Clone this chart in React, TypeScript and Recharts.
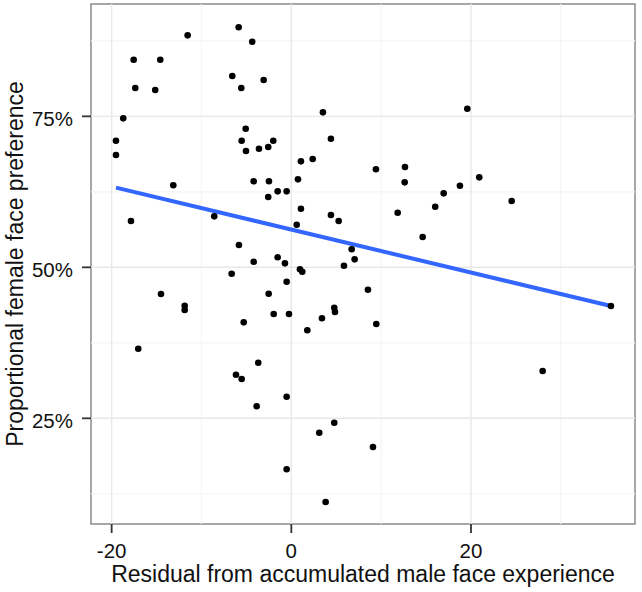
import React from "react";
import {
  ScatterChart,
  Scatter,
  XAxis,
  YAxis,
  ReferenceLine,
  ReferenceArea,
} from "recharts";

// residual (x) vs proportional female face preference in % (y)
const residuals = [
  -11.54, -5.86, -4.35, -17.55, -14.59, -17.37, -15.15, -6.57, -5.57, -3.08,
  -18.71, -19.52, -19.52, -5.08, -5.53, -5.05, -3.6, -2.57, -2.01, -13.14,
  -4.19, -2.49, -1.52, -0.52, -2.57, 3.52, 4.41, 1.07, 2.38, 9.42,
  12.65, 12.62, 19.59, 20.92, 0.74, 16.96, 18.77, -17.85, -8.58, -5.83,
  -4.19, -1.52, -0.71, -6.64, -0.52, -14.51, -11.87, -11.87, -2.52, -1.96,
  -0.26, -5.3, -17.04, -3.68, -6.16, -5.53, 1.07, 4.41, 5.27, 0.6,
  11.84, 16.02, 14.62, 6.72, 7.05, 5.86, 0.96, 1.22, 8.53, 4.78,
  4.86, 3.41, 1.78, 9.46, -0.52, -3.86, -0.52, 4.78, 3.11, 9.09,
  3.82, 24.53, 35.58, 27.98,
];

const preference = [
  88.41, 89.74, 87.35, 84.37, 84.37, 79.69, 79.35, 81.67, 79.69, 81.01,
  74.67, 70.96, 68.59, 72.95, 70.96, 69.26, 69.64, 69.92, 70.96, 63.58,
  64.24, 64.24, 62.58, 62.58, 61.64, 75.66, 71.29, 67.55, 67.93, 66.23,
  66.61, 64.07, 76.26, 64.9, 64.57, 62.25, 63.51, 57.67, 58.44, 53.69,
  50.93, 51.66, 50.66, 48.94, 47.62, 45.58, 43.64, 42.93, 45.63, 42.27,
  42.27, 40.89, 36.52, 34.21, 32.22, 31.51, 59.7, 58.66, 57.67, 57.05,
  59.04, 60.03, 55.02, 52.98, 51.32, 50.26, 49.67, 49.27, 46.29, 43.31,
  42.6, 41.56, 39.57, 40.61, 28.58, 26.99, 16.56, 24.27, 22.62, 20.25,
  11.14, 60.98, 43.59, 32.83,
];

// fitted line ends
const fitX = [-19.52, 35.58];
const fitY = [63.2, 43.6];

const xMajor = [-20, 0, 20];
const xMinor = [-10, 10, 30];
const yMajor = [25, 50, 75];
const yMinor = [12.5, 37.5, 62.5, 87.5];

const xDomain: [number, number] = [-22.3, 38.26];
const yDomain: [number, number] = [7.5, 93.6];

const points = residuals.map((x, i) => ({ x, y: preference[i] }));

const FONT = "'Liberation Sans', Arial, Helvetica, sans-serif";

const XTick = (props: any) => {
  const { x, y, payload } = props;
  return (
    <g>
      <line x1={x} x2={x} y1={y - 18} y2={y - 9} stroke="#333" strokeWidth={1.8} />
      <text x={x} y={y} dy="0.78em" textAnchor="middle" fontSize={20.5} fontFamily={FONT} fill="#111">
        {payload.value}
      </text>
    </g>
  );
};

const YTick = (props: any) => {
  const { x, y, payload } = props;
  return (
    <g>
      <line x1={x + 9} x2={x + 18} y1={y} y2={y} stroke="#333" strokeWidth={1.8} />
      <text x={x} y={y} dy="0.45em" textAnchor="end" fontSize={20.5} fontFamily={FONT} fill="#111">
        {payload.value}%
      </text>
    </g>
  );
};

const Dot = (props: any) => <circle cx={props.cx} cy={props.cy} r={3.3} fill="#000" />;

export default function App() {
  return (
    <div style={{ position: "absolute", left: 0, top: 0, width: 642, height: 592, background: "#fff" }}>
      <ScatterChart width={642} height={592} margin={{ top: 4, right: 7, bottom: 0, left: 0 }}>
        <XAxis
          type="number"
          dataKey="x"
          domain={xDomain}
          allowDataOverflow
          ticks={xMajor}
          axisLine={false}
          tickLine={false}
          tickSize={9}
          tickMargin={9}
          tick={<XTick />}
          height={68}
          label={{
            value: "Residual from accumulated male face experience",
            position: "insideBottom",
            offset: 10,
            fontSize: 23,
            fontFamily: FONT,
            fill: "#111",
          }}
        />
        <YAxis
          type="number"
          dataKey="y"
          domain={yDomain}
          allowDataOverflow
          ticks={yMajor}
          axisLine={false}
          tickLine={false}
          tickSize={9}
          tickMargin={9}
          tick={<YTick />}
          width={91}
          label={{
            content: () => (
              <text
                x={23}
                y={264}
                transform="rotate(-90, 23, 264)"
                textAnchor="middle"
                fontSize={23}
                fontFamily={FONT}
                fill="#111"
              >
                Proportional female face preference
              </text>
            ),
          }}
        />
        {xMinor.map((v) => (
          <ReferenceLine key={`xm${v}`} x={v} stroke="#f5f5f5" strokeWidth={1.2} />
        ))}
        {yMinor.map((v) => (
          <ReferenceLine key={`ym${v}`} y={v} stroke="#f5f5f5" strokeWidth={1.2} />
        ))}
        {xMajor.map((v) => (
          <ReferenceLine key={`xM${v}`} x={v} stroke="#e8e8e8" strokeWidth={1.4} />
        ))}
        {yMajor.map((v) => (
          <ReferenceLine key={`yM${v}`} y={v} stroke="#e8e8e8" strokeWidth={1.4} />
        ))}
        <ReferenceLine
          segment={[
            { x: fitX[0], y: fitY[0] },
            { x: fitX[1], y: fitY[1] },
          ]}
          stroke="#3366FF"
          strokeWidth={4}
        />
        <Scatter data={points} shape={<Dot />} isAnimationActive={false} />
        <ReferenceArea
          x1={xDomain[0]}
          x2={xDomain[1]}
          y1={yDomain[0]}
          y2={yDomain[1]}
          fill="none"
          fillOpacity={0}
          stroke="#8a8a8a"
          strokeWidth={1.5}
        />
      </ScatterChart>
    </div>
  );
}
